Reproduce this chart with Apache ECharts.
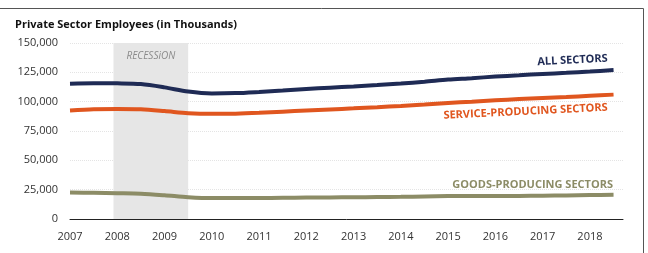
<!DOCTYPE html>
<html>
<head>
<meta charset="utf-8">
<script src="https://cdn.jsdelivr.net/npm/echarts@6/dist/echarts.min.js"></script>
<style>
  html, body { margin: 0; padding: 0; background: #fff; }
  #chart { width: 648px; height: 253px; }
</style>
</head>
<body>
<div id="chart"></div>
<script>
// half-year points, 2007 .. mid 2018
var years = [2007, 2007.5, 2008, 2008.5, 2009, 2009.5, 2010, 2010.5, 2011, 2011.5, 2012, 2012.5,
  2013, 2013.5, 2014, 2014.5, 2015, 2015.5, 2016, 2016.5, 2017, 2017.5, 2018, 2018.5];
var allSectors = [115300, 115700, 115600, 115000, 112200, 108600, 107000, 107300, 108300, 109500, 110800, 111900,
  113000, 114200, 115500, 117000, 118800, 120000, 121400, 122500, 123600, 124600, 125700, 126900];
var serviceSectors = [92500, 93500, 93800, 93500, 92000, 90200, 89600, 89800, 90500, 91500, 92500, 93400,
  94300, 95300, 96400, 97600, 98900, 100000, 101200, 102200, 103100, 104000, 105000, 106000];
var goodsSectors = [22500, 22400, 22000, 21500, 20200, 18600, 17800, 17800, 17900, 18100, 18300, 18400,
  18500, 18700, 18900, 19200, 19500, 19600, 19700, 19700, 19900, 20100, 20400, 20700];
var recession = [2007.92, 2009.5];
var yTicks = [0, 25000, 50000, 75000, 100000, 125000, 150000];

function pairs(ys) {
  return years.map(function (x, i) { return [x, ys[i]]; });
}

var myChart = echarts.init(document.getElementById('chart'));
var font = 'Open Sans';
var option = {
  animation: false,
  grid: { left: 70, right: 25, top: 43, bottom: 34 },
  xAxis: {
    type: 'value', min: 2007, max: 2018.7, interval: 1,
    axisLine: { lineStyle: { color: '#222', width: 1 } },
    axisTick: { show: false },
    splitLine: { show: false },
    axisLabel: {
      color: '#333', fontFamily: font, fontSize: 11, margin: 12,
      formatter: function (v) { return Number.isInteger(v) ? String(v) : ''; }
    }
  },
  yAxis: {
    type: 'value', min: yTicks[0], max: yTicks[yTicks.length - 1], interval: 25000,
    axisLine: { show: false },
    axisTick: { show: false },
    splitLine: { lineStyle: { color: '#e4e4e4', type: 'dotted', width: 1 } },
    axisLabel: {
      color: '#333', fontFamily: font, fontSize: 11, margin: 12,
      formatter: function (v) { return v.toLocaleString('en-US'); }
    }
  },
  series: [
    {
      name: 'Goods', type: 'line', data: pairs(goodsSectors), showSymbol: false, smooth: 0.3,
      lineStyle: { color: '#8c8c66', width: 4 }, z: 3,
      markArea: {
        silent: true,
        itemStyle: { color: '#e6e6e6' },
        label: { show: true, position: 'insideTop', distance: 8, color: '#8a8a8a', fontStyle: 'italic', fontFamily: font, fontSize: 10 },
        data: [[{ xAxis: recession[0], name: 'RECESSiON' }, { xAxis: recession[1] }]]
      }
    },
    {
      name: 'Service', type: 'line', data: pairs(serviceSectors), showSymbol: false, smooth: 0.3,
      lineStyle: { color: '#e0561f', width: 4 }, z: 3
    },
    {
      name: 'All', type: 'line', data: pairs(allSectors), showSymbol: false, smooth: 0.3,
      lineStyle: { color: '#1f2b55', width: 4 }, z: 3
    }
  ],
  graphic: [
    { type: 'line', shape: { x1: 0, y1: 8.5, x2: 643.5, y2: 8.5 }, style: { stroke: '#555', lineWidth: 1 } },
    { type: 'line', shape: { x1: 643.5, y1: 8.5, x2: 643.5, y2: 253 }, style: { stroke: '#555', lineWidth: 1 } },
    { type: 'text', left: 15, top: 19, style: { text: 'Private Sector Employees (in Thousands)', fill: '#111', font: 'bold 11px "Open Sans"' } },
    { type: 'text', x: 608, y: 64, rotation: 0.05, style: { text: 'ALL SECTORS', fill: '#1f2b55', font: 'bold 11px "Open Sans"', align: 'right', verticalAlign: 'bottom' } },
    { type: 'text', x: 608, y: 113, rotation: 0.05, style: { text: 'SERVICE-PRODUCING SECTORS', fill: '#e0561f', font: 'bold 11px "Open Sans"', align: 'right', verticalAlign: 'bottom' } },
    { type: 'text', x: 613, y: 190, style: { text: 'GOODS-PRODUCING SECTORS', fill: '#8c8c66', font: 'bold 11px "Open Sans"', align: 'right', verticalAlign: 'bottom' } }
  ]
};
myChart.setOption(option);
</script>
</body>
</html>
